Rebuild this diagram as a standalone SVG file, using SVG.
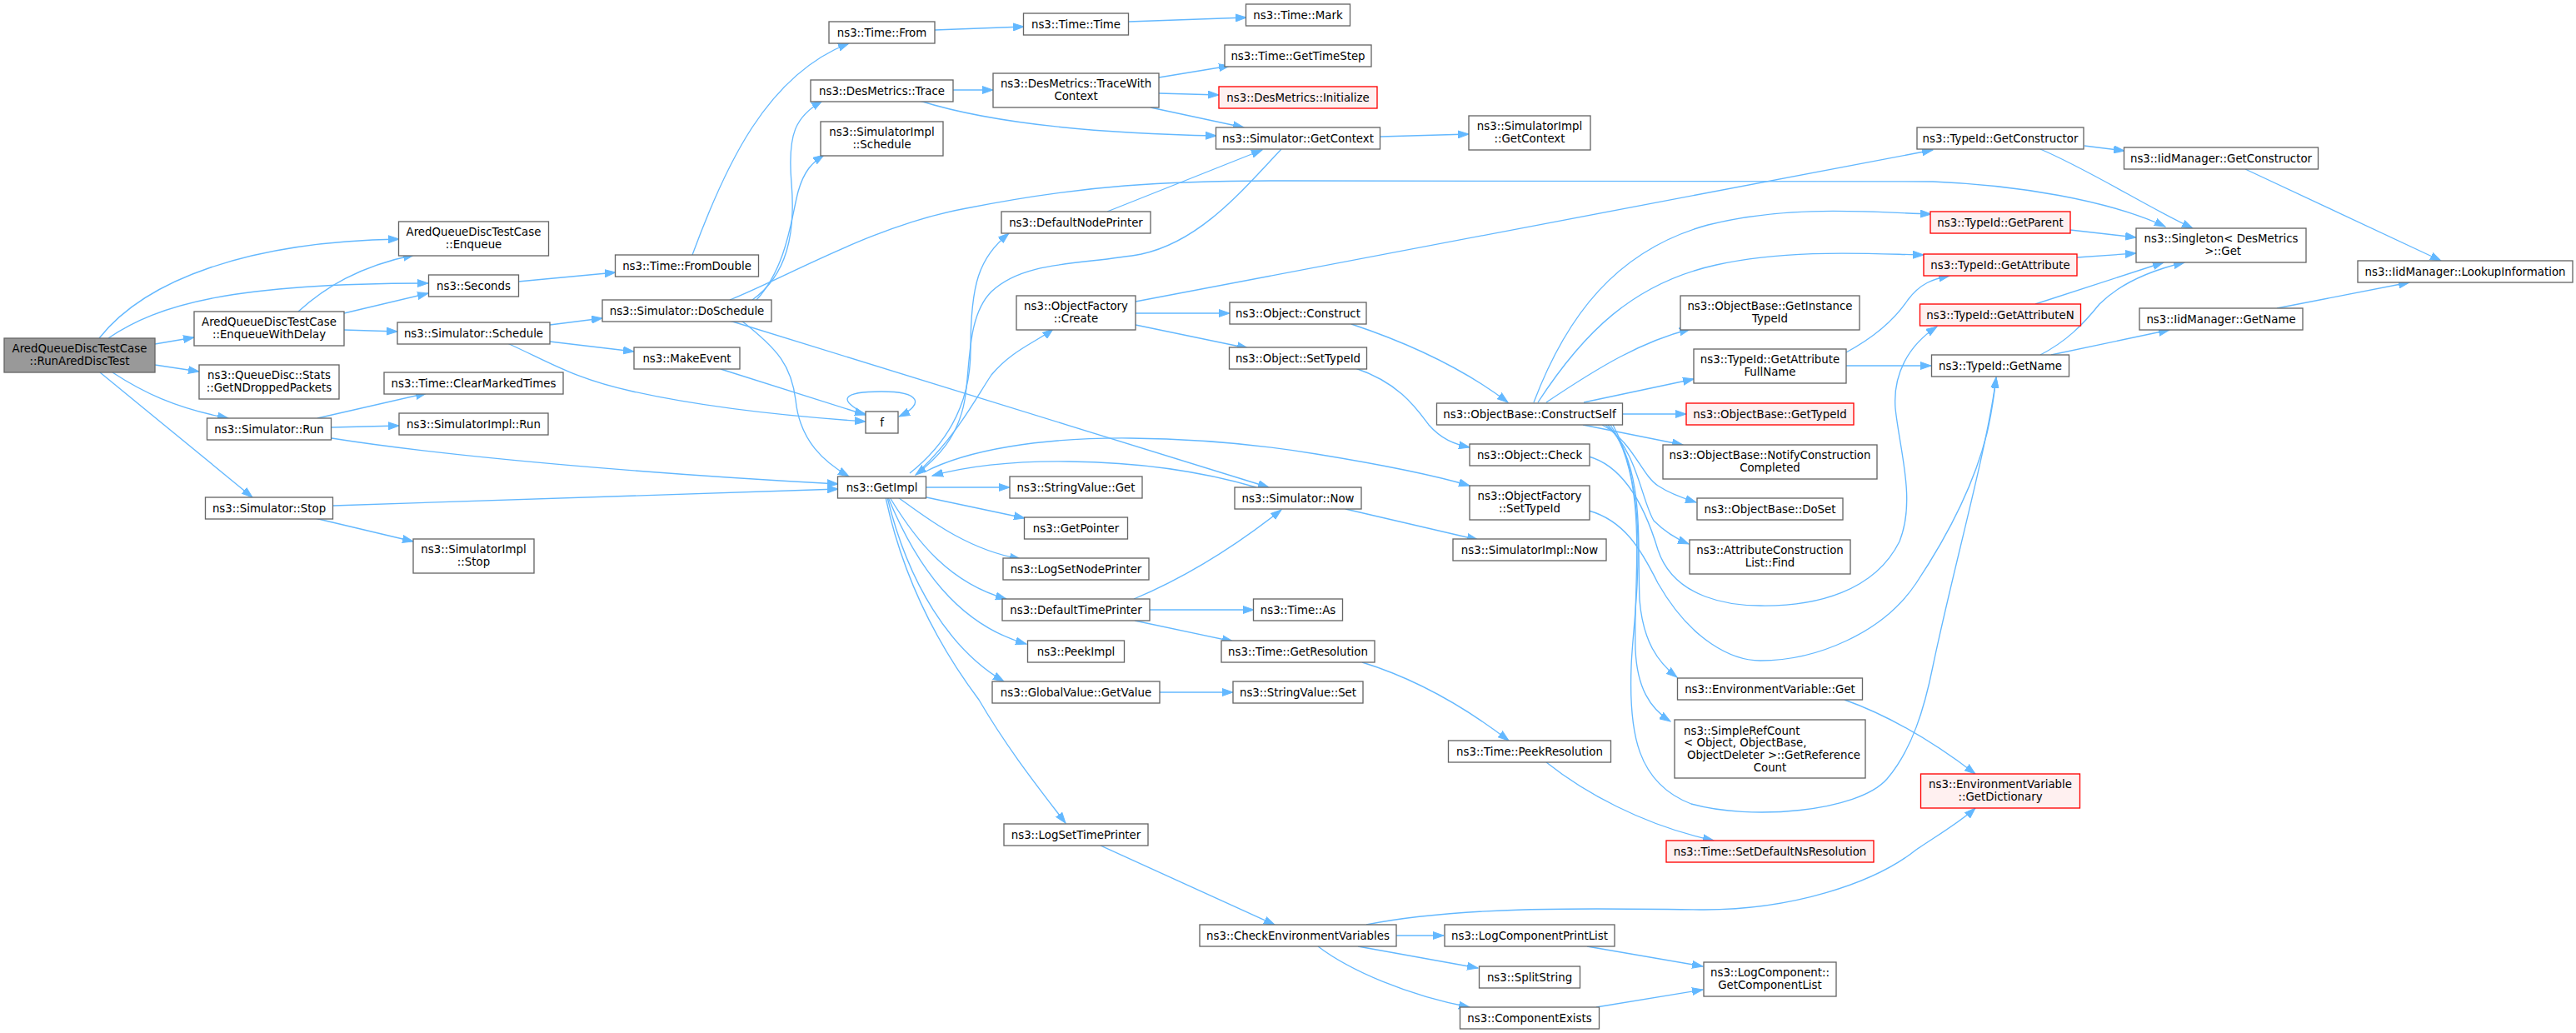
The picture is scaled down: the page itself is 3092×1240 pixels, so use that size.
<svg xmlns="http://www.w3.org/2000/svg" width="3092" height="1240" viewBox="0 0 3092 1240">
<defs>
<style>
.n rect{fill:#ffffff;stroke:#666666;stroke-width:1.33}
.r rect{fill:#fff0f0;stroke:#ff0000;stroke-width:1.33}
.root rect{fill:#999999;stroke:#666666;stroke-width:1.33}
text{font-family:"DejaVu Sans","Liberation Sans",sans-serif;font-size:13.33px;text-anchor:middle;fill:#000000}
.e path{fill:none;stroke:#63b8ff;stroke-width:1.33;marker-end:url(#a)}
</style>
<marker id="a" markerUnits="userSpaceOnUse" markerWidth="14" markerHeight="10" refX="13" refY="5" orient="auto">
<path d="M0,0.5 L13,5 L0,9.5 z" fill="#63b8ff" stroke="#63b8ff" stroke-width="1"/>
</marker>
</defs>
<rect width="3092" height="1240" fill="#ffffff"/>
<g id="edges" class="e">
<path d="M119,406 C175,335 300,290 479,287"/>
<path d="M130,406 C190,365 280,340 514,340"/>
<path d="M186,413 L233,405"/>
<path d="M186,438 L239,446"/>
<path d="M135,447 C170,470 210,490 274,502"/>
<path d="M120,447 L303,597"/>
<path d="M358,374 C390,345 430,320 497,306"/>
<path d="M413,376 L514,352"/>
<path d="M413,396 L477,398"/>
<path d="M622,338 L739,327"/>
<path d="M831,306 C870,200 920,90 1019,52"/>
<path d="M1122,36 L1229,32"/>
<path d="M1355,26 L1496,21"/>
<path d="M660,390 L723,382"/>
<path d="M660,410 L761,422"/>
<path d="M609,412 C660,435 690,455 760,470 C850,490 950,500 1039,506"/>
<path d="M865,443 L1039,498"/>
<path d="M1039,497 C1005,480 1010,470 1058,470 C1105,470 1110,485 1079,500"/>
<path d="M903,360 C945,330 955,280 950,220 C945,160 955,140 987,121"/>
<path d="M908,360 C945,320 950,260 958,230 C965,205 975,195 989,186"/>
<path d="M876,360 C950,330 1050,270 1160,250 C1300,222 1400,217 1542,217 L2320,218 C2420,222 2530,240 2599,272"/>
<path d="M890,385 C935,420 950,440 955,480 C960,530 990,555 1019,572"/>
<path d="M876,385 L1523,585"/>
<path d="M381,502 L512,472"/>
<path d="M398,513 L479,511"/>
<path d="M398,526 C550,550 800,570 1006,581"/>
<path d="M400,607 C600,600 800,592 1006,587"/>
<path d="M378,622 L496,650"/>
<path d="M1144,108 L1192,108"/>
<path d="M1104,121 C1180,145 1300,160 1460,163"/>
<path d="M1391,93 L1476,79"/>
<path d="M1391,112 L1463,114"/>
<path d="M1381,129 L1493,153"/>
<path d="M1657,164 L1763,161"/>
<path d="M1329,254 L1515,180"/>
<path d="M1538,179 C1490,230 1440,290 1370,305 C1300,318 1230,312 1190,350 C1160,380 1165,440 1158,480 C1150,525 1125,550 1099,570"/>
<path d="M1092,568 C1140,530 1165,480 1165,420 C1165,340 1175,310 1211,280"/>
<path d="M1104,565 C1150,520 1170,480 1190,450 C1215,420 1245,410 1264,395"/>
<path d="M1109,567 C1160,540 1250,525 1357,526 C1450,527 1520,535 1580,545 C1660,558 1720,570 1764,583"/>
<path d="M1508,585 C1450,568 1380,555 1283,554 C1210,553 1160,560 1119,571"/>
<path d="M1112,585 L1212,585"/>
<path d="M1112,597 L1230,622"/>
<path d="M1078,597 C1110,620 1160,660 1225,671"/>
<path d="M1068,597 C1100,650 1140,700 1208,719"/>
<path d="M1066,597 C1100,680 1150,750 1232,773"/>
<path d="M1065,597 C1090,700 1140,780 1205,818"/>
<path d="M1063,597 C1085,700 1130,780 1175,840 C1210,900 1250,950 1279,988"/>
<path d="M1363,362 L2320,180"/>
<path d="M1363,376 L1476,376"/>
<path d="M1363,390 L1498,418"/>
<path d="M1622,389 C1700,415 1760,445 1810,483"/>
<path d="M1627,442 C1680,460 1700,490 1715,510 C1730,527 1745,533 1764,537"/>
<path d="M1841,483 C1880,380 1940,300 2050,270 C2150,245 2250,255 2318,257"/>
<path d="M1846,483 C1900,400 1960,340 2060,318 C2150,298 2250,305 2309,306"/>
<path d="M1856,483 C1920,440 1970,410 2029,395"/>
<path d="M1901,483 L2033,455"/>
<path d="M1947,497 L2024,497"/>
<path d="M1900,510 L2020,534"/>
<path d="M1923,510 C1960,530 1970,570 1990,583 C2005,593 2020,598 2036,603"/>
<path d="M1927,510 C1965,540 1970,600 1985,625 C2000,640 2015,648 2027,653"/>
<path d="M1930,510 C1975,560 1965,650 1968,720 C1972,770 1990,795 2013,813"/>
<path d="M1933,510 C1980,580 1960,700 1963,780 C1965,825 1980,850 2005,866"/>
<path d="M1936,510 C1985,600 1960,740 1958,800 C1955,880 1965,940 2030,965 C2100,985 2230,975 2265,935 C2295,900 2310,850 2320,800 C2345,680 2385,540 2396,453"/>
<path d="M1907,548 C1950,560 1975,610 1990,660 C2010,720 2080,727 2113,727 C2180,728 2250,710 2280,650 C2300,600 2280,540 2275,490 C2272,450 2290,415 2325,392"/>
<path d="M1907,613 C1950,625 1970,660 1990,700 C2030,770 2080,793 2113,793 C2180,793 2260,760 2300,700 C2340,640 2370,580 2385,520 C2392,490 2394,470 2396,453"/>
<path d="M2216,423 C2240,410 2270,390 2290,360 C2305,340 2320,335 2340,331"/>
<path d="M2216,439 L2318,439"/>
<path d="M1615,611 L1774,648"/>
<path d="M1361,719 C1430,690 1490,650 1538,612"/>
<path d="M1380,732 L1505,732"/>
<path d="M1362,745 L1480,770"/>
<path d="M1635,795 C1700,815 1760,850 1811,889"/>
<path d="M1856,915 C1900,950 1970,990 2057,1009"/>
<path d="M1392,831 L1480,831"/>
<path d="M1321,1015 L1530,1110"/>
<path d="M1676,1123 L1733,1123"/>
<path d="M1630,1136 L1774,1162"/>
<path d="M1582,1136 C1620,1165 1690,1195 1764,1209"/>
<path d="M1905,1136 L2044,1160"/>
<path d="M1916,1209 L2044,1188"/>
<path d="M1640,1110 C1750,1088 1900,1090 2040,1092 C2150,1093 2250,1060 2300,1020 C2330,1000 2355,985 2371,970"/>
<path d="M2214,840 C2270,860 2320,890 2371,929"/>
<path d="M2502,175 L2550,181"/>
<path d="M2449,179 C2510,205 2580,250 2632,274"/>
<path d="M2485,276 L2564,285"/>
<path d="M2493,309 L2564,304"/>
<path d="M2443,365 L2597,315"/>
<path d="M2449,426 C2480,410 2500,390 2520,365 C2545,340 2580,325 2622,315"/>
<path d="M2462,426 L2604,396"/>
<path d="M2695,203 L2930,313"/>
<path d="M2733,370 L2892,339"/>
</g>
<g id="n0" class="root"><rect x="5" y="406" width="181" height="41"/><text><tspan x="95.5" y="423.2">AredQueueDiscTestCase</tspan><tspan x="95.5" y="437.9">::RunAredDiscTest</tspan></text></g>
<g id="n1" class="n"><rect x="478.5" y="266" width="180" height="41"/><text><tspan x="568.5" y="283.2">AredQueueDiscTestCase</tspan><tspan x="568.5" y="297.9">::Enqueue</tspan></text></g>
<g id="n2" class="n"><rect x="514.5" y="330" width="108" height="26"/><text x="568.5" y="347.5">ns3::Seconds</text></g>
<g id="n3" class="n"><rect x="233" y="374" width="180" height="41"/><text><tspan x="323" y="391.2">AredQueueDiscTestCase</tspan><tspan x="323" y="405.9">::EnqueueWithDelay</tspan></text></g>
<g id="n4" class="n"><rect x="239" y="438" width="168" height="41"/><text><tspan x="323" y="455.2">ns3::QueueDisc::Stats</tspan><tspan x="323" y="469.9">::GetNDroppedPackets</tspan></text></g>
<g id="n5" class="n"><rect x="248.5" y="502" width="149" height="26"/><text x="323" y="519.5">ns3::Simulator::Run</text></g>
<g id="n6" class="n"><rect x="246.5" y="597" width="153" height="26"/><text x="323" y="614.5">ns3::Simulator::Stop</text></g>
<g id="n7" class="n"><rect x="477" y="387" width="183" height="26"/><text x="568.5" y="404.5">ns3::Simulator::Schedule</text></g>
<g id="n8" class="n"><rect x="461" y="447" width="215" height="26"/><text x="568.5" y="464.5">ns3::Time::ClearMarkedTimes</text></g>
<g id="n9" class="n"><rect x="479" y="496" width="179" height="26"/><text x="568.5" y="513.5">ns3::SimulatorImpl::Run</text></g>
<g id="n10" class="n"><rect x="496" y="647" width="145" height="41"/><text><tspan x="568.5" y="664.2">ns3::SimulatorImpl</tspan><tspan x="568.5" y="678.9">::Stop</tspan></text></g>
<g id="n11" class="n"><rect x="738.5" y="306" width="172" height="26"/><text x="824.5" y="323.5">ns3::Time::FromDouble</text></g>
<g id="n12" class="n"><rect x="723" y="360" width="203" height="26"/><text x="824.5" y="377.5">ns3::Simulator::DoSchedule</text></g>
<g id="n13" class="n"><rect x="761" y="417" width="127" height="26"/><text x="824.5" y="434.5">ns3::MakeEvent</text></g>
<g id="n14" class="n"><rect x="1039" y="494" width="39" height="26"/><text x="1058.5" y="511.5">f</text></g>
<g id="n15" class="n"><rect x="1005.5" y="572" width="106" height="26"/><text x="1058.5" y="589.5">ns3::GetImpl</text></g>
<g id="n16" class="n"><rect x="995" y="26" width="127" height="26"/><text x="1058.5" y="43.5">ns3::Time::From</text></g>
<g id="n17" class="n"><rect x="1228.5" y="16" width="126" height="26"/><text x="1291.5" y="33.5">ns3::Time::Time</text></g>
<g id="n18" class="n"><rect x="1495.5" y="5" width="125" height="26"/><text x="1558" y="22.5">ns3::Time::Mark</text></g>
<g id="n19" class="n"><rect x="973" y="96" width="171" height="26"/><text x="1058.5" y="113.5">ns3::DesMetrics::Trace</text></g>
<g id="n20" class="n"><rect x="1192" y="88" width="199" height="41"/><text><tspan x="1291.5" y="105.2">ns3::DesMetrics::TraceWith</tspan><tspan x="1291.5" y="119.9">Context</tspan></text></g>
<g id="n21" class="n"><rect x="1470" y="54" width="176" height="26"/><text x="1558" y="71.5">ns3::Time::GetTimeStep</text></g>
<g id="n22" class="r"><rect x="1463" y="104" width="190" height="26"/><text x="1558" y="121.5">ns3::DesMetrics::Initialize</text></g>
<g id="n23" class="n"><rect x="1459.5" y="153" width="197" height="26"/><text x="1558" y="170.5">ns3::Simulator::GetContext</text></g>
<g id="n24" class="n"><rect x="985" y="146" width="147" height="41"/><text><tspan x="1058.5" y="163.2">ns3::SimulatorImpl</tspan><tspan x="1058.5" y="177.9">::Schedule</tspan></text></g>
<g id="n25" class="n"><rect x="1763" y="139" width="146" height="41"/><text><tspan x="1836" y="156.2">ns3::SimulatorImpl</tspan><tspan x="1836" y="170.9">::GetContext</tspan></text></g>
<g id="n26" class="n"><rect x="1202" y="254" width="179" height="26"/><text x="1291.5" y="271.5">ns3::DefaultNodePrinter</text></g>
<g id="n27" class="n"><rect x="1220" y="355" width="143" height="41"/><text><tspan x="1291.5" y="372.2">ns3::ObjectFactory</tspan><tspan x="1291.5" y="386.9">::Create</tspan></text></g>
<g id="n28" class="n"><rect x="1476" y="363" width="164" height="26"/><text x="1558" y="380.5">ns3::Object::Construct</text></g>
<g id="n29" class="n"><rect x="1475.5" y="417" width="165" height="26"/><text x="1558" y="434.5">ns3::Object::SetTypeId</text></g>
<g id="n30" class="n"><rect x="1212" y="572" width="159" height="26"/><text x="1291.5" y="589.5">ns3::StringValue::Get</text></g>
<g id="n31" class="n"><rect x="1229.5" y="621" width="124" height="26"/><text x="1291.5" y="638.5">ns3::GetPointer</text></g>
<g id="n32" class="n"><rect x="1204" y="670" width="175" height="26"/><text x="1291.5" y="687.5">ns3::LogSetNodePrinter</text></g>
<g id="n33" class="n"><rect x="1203" y="719" width="177" height="26"/><text x="1291.5" y="736.5">ns3::DefaultTimePrinter</text></g>
<g id="n34" class="n"><rect x="1233.5" y="769" width="116" height="26"/><text x="1291.5" y="786.5">ns3::PeekImpl</text></g>
<g id="n35" class="n"><rect x="1191" y="818" width="201" height="26"/><text x="1291.5" y="835.5">ns3::GlobalValue::GetValue</text></g>
<g id="n36" class="n"><rect x="1205" y="989" width="173" height="26"/><text x="1291.5" y="1006.5">ns3::LogSetTimePrinter</text></g>
<g id="n37" class="n"><rect x="1482" y="585" width="152" height="26"/><text x="1558" y="602.5">ns3::Simulator::Now</text></g>
<g id="n38" class="n"><rect x="1504.5" y="719" width="107" height="26"/><text x="1558" y="736.5">ns3::Time::As</text></g>
<g id="n39" class="n"><rect x="1466" y="769" width="184" height="26"/><text x="1558" y="786.5">ns3::Time::GetResolution</text></g>
<g id="n40" class="n"><rect x="1480" y="818" width="156" height="26"/><text x="1558" y="835.5">ns3::StringValue::Set</text></g>
<g id="n41" class="n"><rect x="1440" y="1110" width="236" height="26"/><text x="1558" y="1127.5">ns3::CheckEnvironmentVariables</text></g>
<g id="n42" class="n"><rect x="1724.5" y="484" width="223" height="26"/><text x="1836" y="501.5">ns3::ObjectBase::ConstructSelf</text></g>
<g id="n43" class="n"><rect x="1764" y="533" width="144" height="26"/><text x="1836" y="550.5">ns3::Object::Check</text></g>
<g id="n44" class="n"><rect x="1764" y="583" width="144" height="41"/><text><tspan x="1836" y="600.2">ns3::ObjectFactory</tspan><tspan x="1836" y="614.9">::SetTypeId</tspan></text></g>
<g id="n45" class="n"><rect x="1744" y="647" width="184" height="26"/><text x="1836" y="664.5">ns3::SimulatorImpl::Now</text></g>
<g id="n46" class="n"><rect x="1738.5" y="889" width="195" height="26"/><text x="1836" y="906.5">ns3::Time::PeekResolution</text></g>
<g id="n47" class="n"><rect x="1734" y="1110" width="204" height="26"/><text x="1836" y="1127.5">ns3::LogComponentPrintList</text></g>
<g id="n48" class="n"><rect x="1775.5" y="1160" width="121" height="26"/><text x="1836" y="1177.5">ns3::SplitString</text></g>
<g id="n49" class="n"><rect x="1752.5" y="1209" width="167" height="26"/><text x="1836" y="1226.5">ns3::ComponentExists</text></g>
<g id="n50" class="n"><rect x="2017" y="355" width="215" height="41"/><text><tspan x="2124.5" y="372.2">ns3::ObjectBase::GetInstance</tspan><tspan x="2124.5" y="386.9">TypeId</tspan></text></g>
<g id="n51" class="n"><rect x="2033" y="419" width="183" height="41"/><text><tspan x="2124.5" y="436.2">ns3::TypeId::GetAttribute</tspan><tspan x="2124.5" y="450.9">FullName</tspan></text></g>
<g id="n52" class="r"><rect x="2024" y="484" width="201" height="26"/><text x="2124.5" y="501.5">ns3::ObjectBase::GetTypeId</text></g>
<g id="n53" class="n"><rect x="1996" y="534" width="257" height="41"/><text><tspan x="2124.5" y="551.2">ns3::ObjectBase::NotifyConstruction</tspan><tspan x="2124.5" y="565.9">Completed</tspan></text></g>
<g id="n54" class="n"><rect x="2037" y="598" width="175" height="26"/><text x="2124.5" y="615.5">ns3::ObjectBase::DoSet</text></g>
<g id="n55" class="n"><rect x="2028" y="648" width="193" height="41"/><text><tspan x="2124.5" y="665.2">ns3::AttributeConstruction</tspan><tspan x="2124.5" y="679.9">List::Find</tspan></text></g>
<g id="n56" class="n"><rect x="2013.5" y="814" width="222" height="26"/><text x="2124.5" y="831.5">ns3::EnvironmentVariable::Get</text></g>
<g id="n57" class="n"><rect x="2010" y="864" width="229" height="70"/><text><tspan x="2021" y="881.5" text-anchor="start">ns3::SimpleRefCount</tspan><tspan x="2021" y="896.2" text-anchor="start">&lt; Object, ObjectBase,</tspan><tspan x="2025" y="910.9" text-anchor="start">ObjectDeleter &gt;::GetReference</tspan><tspan x="2124.5" y="925.6">Count</tspan></text></g>
<g id="n58" class="r"><rect x="2000" y="1009" width="249" height="26"/><text x="2124.5" y="1026.5">ns3::Time::SetDefaultNsResolution</text></g>
<g id="n59" class="n"><rect x="2045" y="1155" width="159" height="41"/><text><tspan x="2124.5" y="1172.2">ns3::LogComponent::</tspan><tspan x="2124.5" y="1186.9">GetComponentList</tspan></text></g>
<g id="n60" class="n"><rect x="2301" y="153" width="200" height="26"/><text x="2401" y="170.5">ns3::TypeId::GetConstructor</text></g>
<g id="n61" class="r"><rect x="2317" y="254" width="168" height="26"/><text x="2401" y="271.5">ns3::TypeId::GetParent</text></g>
<g id="n62" class="r"><rect x="2309" y="305" width="184" height="26"/><text x="2401" y="322.5">ns3::TypeId::GetAttribute</text></g>
<g id="n63" class="r"><rect x="2304.5" y="365" width="193" height="26"/><text x="2401" y="382.5">ns3::TypeId::GetAttributeN</text></g>
<g id="n64" class="n"><rect x="2318.5" y="426" width="165" height="26"/><text x="2401" y="443.5">ns3::TypeId::GetName</text></g>
<g id="n65" class="r"><rect x="2305.5" y="929" width="191" height="41"/><text><tspan x="2401" y="946.2">ns3::EnvironmentVariable</tspan><tspan x="2401" y="960.9">::GetDictionary</tspan></text></g>
<g id="n66" class="n"><rect x="2564" y="274" width="204" height="41"/><text><tspan x="2666" y="291.2">ns3::Singleton&lt; DesMetrics</tspan><tspan x="2666" y="305.9"> &gt;::Get</tspan></text></g>
<g id="n67" class="n"><rect x="2549.5" y="177" width="233" height="26"/><text x="2666" y="194.5">ns3::IidManager::GetConstructor</text></g>
<g id="n68" class="n"><rect x="2568" y="370" width="196" height="26"/><text x="2666" y="387.5">ns3::IidManager::GetName</text></g>
<g id="n69" class="n"><rect x="2830" y="313" width="258" height="26"/><text x="2959" y="330.5">ns3::IidManager::LookupInformation</text></g>
</svg>
